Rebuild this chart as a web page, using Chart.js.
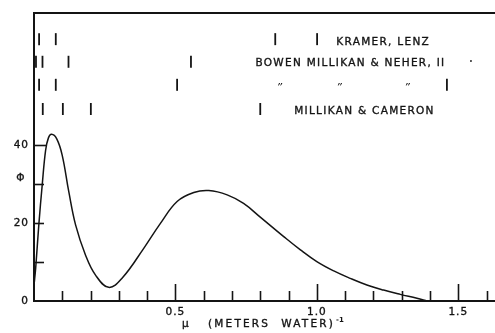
<!DOCTYPE html>
<html>
<head>
<meta charset="utf-8">
<script src="https://cdn.jsdelivr.net/npm/chart.js@4/dist/chart.umd.min.js"></script>
<style>
  html, body { margin: 0; padding: 0; background: #fff; }
  canvas { display: block; }
</style>
</head>
<body>
<canvas id="phiChart" width="495" height="333"></canvas>
<script>
// spectrum curve: Phi against mu (meters water)^-1
const muValues  = [0, 0.006, 0.017, 0.029, 0.041, 0.051, 0.062, 0.08, 0.0996, 0.123, 0.147, 0.182, 0.217, 0.264, 0.312, 0.388, 0.447, 0.506, 0.565, 0.618, 0.683, 0.741, 0.80, 0.883, 0.942, 1.0, 1.06, 1.118, 1.177, 1.236, 1.295, 1.354, 1.39];
const phiValues = [4, 8.5, 19.5, 29.7, 38.6, 41.8, 42.7, 41.6, 37.4, 28, 19.5, 11.8, 6.7, 3.5, 5.9, 13.5, 19.9, 25.5, 27.8, 28.3, 27.2, 25, 21.5, 16.5, 13.1, 10.1, 7.7, 5.8, 4.1, 2.8, 1.7, 0.7, 0];

// absorption coefficients reported by each experiment
const kramerLenz      = [0.018, 0.077, 0.853, 1.001];
const bowenMillikan   = [0.007, 0.030, 0.122, 0.555];
const bowenDitto      = [0.018, 0.077, 0.506, 1.46];
const millikanCameron = [0.031, 0.102, 0.201, 0.800];
const rowLevels = [67.1, 61.3, 55.4, 49.2];

const xMinorTicks = [0.1, 0.2, 0.3, 0.4, 0.5, 0.6, 0.7, 0.8, 0.9, 1.0, 1.1, 1.2, 1.3, 1.4, 1.5, 1.6];
const xMajorTicks = [0.5, 1.0, 1.5];
const xTickLabels = ['0.5', '1.0', '1.5'];
const yMinorTicks = [10, 20, 30, 40];
const yTickValues = [0, 20, 40];
const yTickLabels = ['0', '20', '40'];

const INK = '#141414';
const FONT = '"DejaVu Sans", sans-serif';

const rowPoints = (list, level) => list.map(v => ({ x: v, y: level }));
const markSet = (list, level) => ({
    type: 'scatter',
    data: rowPoints(list, level),
    pointStyle: 'line',
    rotation: 90,
    pointRadius: 6,
    pointHoverRadius: 6,
    borderColor: INK,
    borderWidth: 1.8,
    showLine: false
});

// annotations in data coordinates
const notes = [
    { text: 'KRAMER, LENZ', x: 1.069, y: 66.3 },
    { text: 'BOWEN MILLIKAN & NEHER, II', x: 0.783, y: 60.8 },
    { text: 'MILLIKAN & CAMERON', x: 0.92, y: 48.6 }
];
const dittoAt = [0.857, 1.069, 1.309];

// slightly heavier lettering, like the pen-drawn original
const ink = (ctx, text, px, py) => {
    ctx.fillText(text, px, py);
    ctx.strokeText(text, px, py);
};

const frame = {
    id: 'frame',
    afterDatasetsDraw(chart) {
        const { ctx, chartArea: a, scales: { x, y } } = chart;
        ctx.save();
        ctx.strokeStyle = INK;
        ctx.lineWidth = 2;
        ctx.beginPath();
        ctx.moveTo(a.left - 1, a.top);
        ctx.lineTo(a.right, a.top);
        ctx.stroke();

        // inward ticks
        ctx.lineWidth = 1.6;
        xMinorTicks.forEach(v => {
            const px = Math.round(x.getPixelForValue(v)) + 0.5;
            const len = xMajorTicks.includes(v) ? 17 : 10;
            ctx.beginPath();
            ctx.moveTo(px, a.bottom);
            ctx.lineTo(px, a.bottom - len);
            ctx.stroke();
        });
        yMinorTicks.forEach(v => {
            const py = Math.round(y.getPixelForValue(v)) + 0.5;
            const len = v === 40 ? 12 : 10;
            ctx.beginPath();
            ctx.moveTo(a.left, py);
            ctx.lineTo(a.left + len, py);
            ctx.stroke();
        });

        // tick labels
        ctx.fillStyle = INK;
        ctx.lineWidth = 0.35;
        ctx.font = '10.5px ' + FONT;
        ctx.letterSpacing = '1px';
        ctx.textAlign = 'center';
        ctx.textBaseline = 'middle';
        xMajorTicks.forEach((v, i) => ink(ctx, xTickLabels[i], x.getPixelForValue(v), a.bottom + 11));
        ctx.textAlign = 'right';
        yTickValues.forEach((v, i) => ink(ctx, yTickLabels[i], a.left - 5, y.getPixelForValue(v)));

        // axis titles
        ctx.textAlign = 'center';
        ink(ctx, '\u03a6', a.left - 13, y.getPixelForValue(31.5));
        ctx.letterSpacing = '2.2px';
        ctx.textAlign = 'left';
        ink(ctx, '\u03bc', 182, a.bottom + 23);
        ink(ctx, '(METERS  WATER)', 208, a.bottom + 23);
        ctx.font = 'bold 7px ' + FONT;
        ctx.letterSpacing = '0px';
        ctx.fillText('-1', 336, a.bottom + 19);

        // experiment names
        ctx.font = '10.5px ' + FONT;
        ctx.letterSpacing = '1.3px';
        notes.forEach(n => ink(ctx, n.text, x.getPixelForValue(n.x), y.getPixelForValue(n.y)));
        ctx.font = 'italic 11px ' + FONT;
        ctx.letterSpacing = '0px';
        dittoAt.forEach(v => ctx.fillText('\u201d', x.getPixelForValue(v), y.getPixelForValue(54.6)));
        ctx.beginPath();
        ctx.arc(x.getPixelForValue(1.545), y.getPixelForValue(61.5), 0.9, 0, Math.PI * 2);
        ctx.fill();
        ctx.restore();
    }
};

new Chart(document.getElementById('phiChart').getContext('2d'), {
    type: 'line',
    data: {
        datasets: [
            {
                data: muValues.map((m, i) => ({ x: m, y: phiValues[i] })),
                borderColor: INK,
                borderWidth: 1.5,
                pointRadius: 0,
                fill: false,
                tension: 0.4
            },
            markSet(kramerLenz, rowLevels[0]),
            markSet(bowenMillikan, rowLevels[1]),
            markSet(bowenDitto, rowLevels[2]),
            markSet(millikanCameron, rowLevels[3])
        ]
    },
    options: {
        responsive: false,
        animation: false,
        devicePixelRatio: 1,
        layout: { autoPadding: false, padding: { top: 13, right: 0, left: 0, bottom: 0 } },
        plugins: { legend: { display: false }, tooltip: { enabled: false } },
        scales: {
            x: {
                type: 'linear', min: 0, max: 1.63,
                grid: { display: false },
                border: { display: true, color: INK, width: 2 },
                ticks: { display: false },
                afterFit: s => { s.height = 32; }
            },
            y: {
                min: 0, max: 73.8,
                grid: { display: false },
                border: { display: true, color: INK, width: 2 },
                ticks: { display: false },
                afterFit: s => { s.width = 34; }
            }
        }
    },
    plugins: [frame]
});
</script>
</body>
</html>
